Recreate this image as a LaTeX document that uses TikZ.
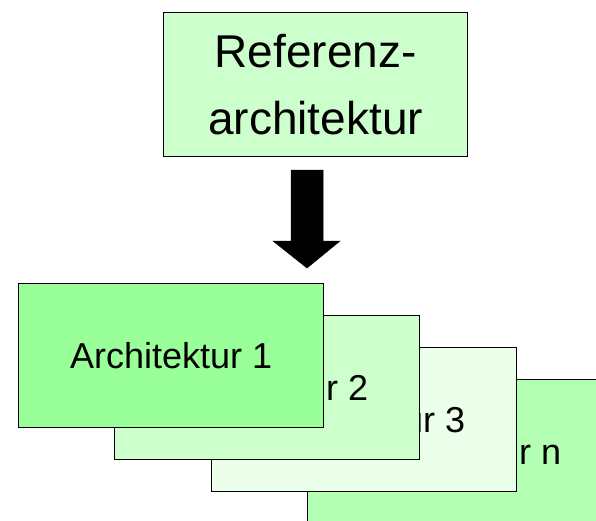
\documentclass[tikz,border=0pt]{standalone}
\usepackage{fontspec}
\setmainfont{Liberation Sans}
\definecolor{gA}{HTML}{99FF99}
\definecolor{gB}{HTML}{CCFFCC}
\definecolor{gC}{HTML}{EBFFEB}
\definecolor{gN}{HTML}{B3FFB3}
\definecolor{gTop}{HTML}{CCFFCC}
\tikzset{
  archbox/.style={draw=black, line width=1.3pt, minimum width=305pt, minimum height=144pt,
    inner sep=0pt, anchor=north west, font=\fontsize{36}{43}\selectfont},
  refbox/.style={draw=black, line width=1.3pt, minimum width=304pt, minimum height=144pt,
    inner sep=0pt, anchor=north west, align=center, fill=gTop, font=\fontsize{46}{67}\selectfont},
  blockarrow/.style={fill=black, draw=black, line width=0.5pt}
}
\begin{document}
\begin{tikzpicture}[x=1pt,y=-1pt]
\useasboundingbox (0,0) rectangle (596,520);
\clip (0,0) rectangle (596,520);
\node[refbox] (ref) at (163,12) {Referenz-\\architektur};
\draw[blockarrow] (291,170) -- (323,170) -- (323,241) -- (340,241) -- (307,268) -- (273,241) -- (291,241) -- cycle;
\node[archbox, fill=gN] (an) at (307,379) {Architektur n};
\node[archbox, fill=gC] (a3) at (211,347) {Architektur 3};
\node[archbox, fill=gB] (a2) at (114,315) {Architektur 2};
\node[archbox, fill=gA] (a1) at (18,283) {Architektur 1};
\end{tikzpicture}
\end{document}
